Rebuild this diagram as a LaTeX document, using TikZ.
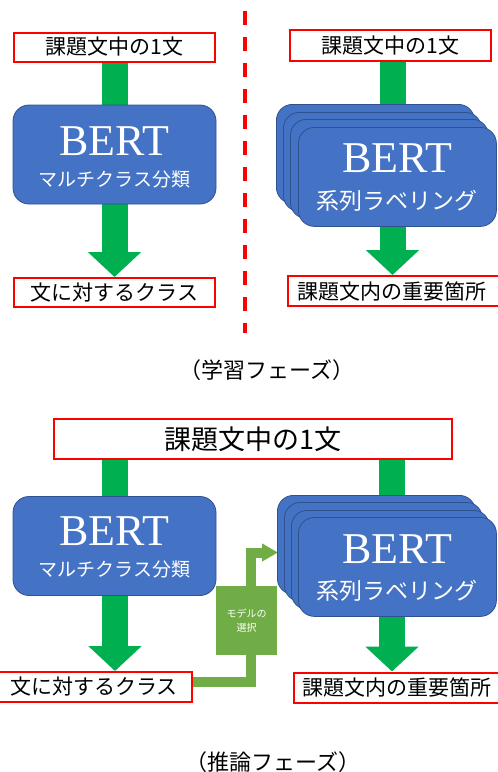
\documentclass[tikz,border=0pt]{standalone}
\usepackage{fontspec}
\setmainfont{Liberation Serif}
\newfontfamily\cjk{Noto Sans CJK JP}
\usetikzlibrary{arrows.meta,calc}
\definecolor{bblue}{HTML}{4472C4}
\definecolor{bborder}{HTML}{2F528F}
\definecolor{agreen}{HTML}{00B050}
\definecolor{sgreen}{HTML}{70AD47}
\definecolor{rred}{HTML}{FF0000}
\pgfdeclarelayer{bg}
\pgfsetlayers{bg,main}
\begin{document}
\begin{tikzpicture}[x=1pt,y=-1pt,
  redbox/.style={draw=rred, line width=2pt, fill=white, inner sep=0pt, font=\cjk\fontsize{21}{21}\selectfont},
  bertbox/.style={draw=bborder, line width=0.8pt, fill=bblue, rounded corners=16pt, minimum width=203pt, minimum height=99pt, inner sep=0pt},
  stackbox/.style={bertbox, minimum width=198pt, anchor=north west},
  berttext/.style={text=white, inner sep=0pt, font=\fontsize{44}{44}\selectfont},
  subtext/.style={text=white, inner sep=0pt, font=\cjk\fontsize{19}{19}\selectfont},
  subtextb/.style={subtext, font=\cjk\fontsize{23}{23}\selectfont},
  shaft/.style={draw=agreen, line width=26pt},
  blockarrow/.style={shaft, -{Triangle[width=52pt,length=25pt]}},
  selline/.style={draw=sgreen, line width=10pt},
  caption/.style={inner sep=0pt, font=\cjk\fontsize{22}{22}\selectfont},
  divider/.style={draw=rred, line width=4pt, dash pattern=on 14pt off 12pt}
]
\useasboundingbox (0,0) rectangle (498,772);

% ---------------- learning phase ----------------
\coordinate (dtop) at (245,11);
\coordinate (dbot) at (245,333);
\draw[divider] (dtop) -- (dbot);

% left column
\node[redbox, minimum width=201pt, minimum height=29pt] (lin) at (114.5,47) {課題文中の1文};
\node[bertbox] (lb) at (114.5,154.5) {};
\node[berttext] (lbt) at ($(lb.center)+(0,-13.5)$) {BERT};
\node[subtext] (lbs) at ($(lb.center)+(0,25)$) {マルチクラス分類};
\node[redbox, minimum width=201pt, minimum height=29pt] (lout) at (114.5,292.5) {文に対するクラス};
\begin{pgfonlayer}{bg}
\draw[shaft] (lin.south) -- (lb.north);
\draw[blockarrow] (lb.south) -- (lout.north);
\end{pgfonlayer}

% right column
\node[redbox, minimum width=201pt, minimum height=31pt] (rin) at (390.5,45.5) {課題文中の1文};
\coordinate (rx) at (392.5,45.5);
\node[stackbox] (r1) at (276,104) {};
\node[stackbox] (r2) at (283,112) {};
\node[stackbox] (r3) at (290,119) {};
\node[stackbox] (r4) at (298,127) {};
\node[berttext] (rbt) at ($(r4.center)+(0,-18.5)$) {BERT};
\node[subtextb] (rbs) at ($(r4.center)+(0,23.5)$) {系列ラベリング};
\node[redbox, anchor=west, minimum height=30pt, text width=205pt, align=left, inner xsep=9pt] (rout) at (287,291) {課題文内の重要箇所};
\begin{pgfonlayer}{bg}
\draw[shaft] (rin.south -| rx) -- (rx |- r1.north);
\draw[blockarrow] (rx |- r4.south) -- (rx |- rout.north);
\end{pgfonlayer}

\node[caption] (cap1) at (267,370) {（学習フェーズ）};

% ---------------- inference phase ----------------
\node[redbox, minimum width=398pt, minimum height=40pt, font=\cjk\fontsize{27}{27}\selectfont] (iin) at (253,439) {課題文中の1文};
\coordinate (ilx) at (115,439);
\coordinate (irx) at (392,439);
\node[bertbox] (ib) at (114.5,546) {};
\node[berttext] (ibt) at ($(ib.center)+(0,-15)$) {BERT};
\node[subtext] (ibs) at ($(ib.center)+(0,23)$) {マルチクラス分類};
\node[redbox, anchor=east, minimum height=30pt, text width=180pt, align=right, inner xsep=14pt] (iout) at (193,687) {文に対するクラス};
\node[stackbox] (s1) at (277,495) {};
\node[stackbox] (s2) at (284,502) {};
\node[stackbox] (s3) at (291,510) {};
\node[stackbox] (s4) at (298,517) {};
\node[berttext] (sbt) at ($(s4.center)+(0,-17.5)$) {BERT};
\node[subtextb] (sbs) at ($(s4.center)+(0,23.5)$) {系列ラベリング};
\node[redbox, anchor=west, minimum height=30pt, text width=205pt, align=left, inner xsep=8pt] (sout) at (293,687.5) {課題文内の重要箇所};

% model selection
\node[fill=sgreen, minimum width=61pt, minimum height=69pt, inner sep=0pt, text=white, align=center, font=\cjk\fontsize{10}{14}\selectfont] (sel) at (246.5,620.5) {モデルの\\選択};
\coordinate (selx) at (251,620.5);
\coordinate (selend) at (278,552.5);

\begin{pgfonlayer}{bg}
\draw[shaft] (iin.south -| ilx) -- (ilx |- ib.north);
\draw[blockarrow] (ilx |- ib.south) -- (ilx |- iout.north);
\draw[shaft] (iin.south -| irx) -- (irx |- s1.north);
\draw[blockarrow] (irx |- s4.south) -- (irx |- sout.north);
\draw[selline] ($(iout.east)+(-1,-5)$) -| (selx |- sel.south);
\draw[selline, -{Triangle[width=17pt,length=16pt]}] (selx |- sel.north) |- (selend);
\end{pgfonlayer}

\node[caption] (cap2) at (273,762) {（推論フェーズ）};
\end{tikzpicture}
\end{document}
